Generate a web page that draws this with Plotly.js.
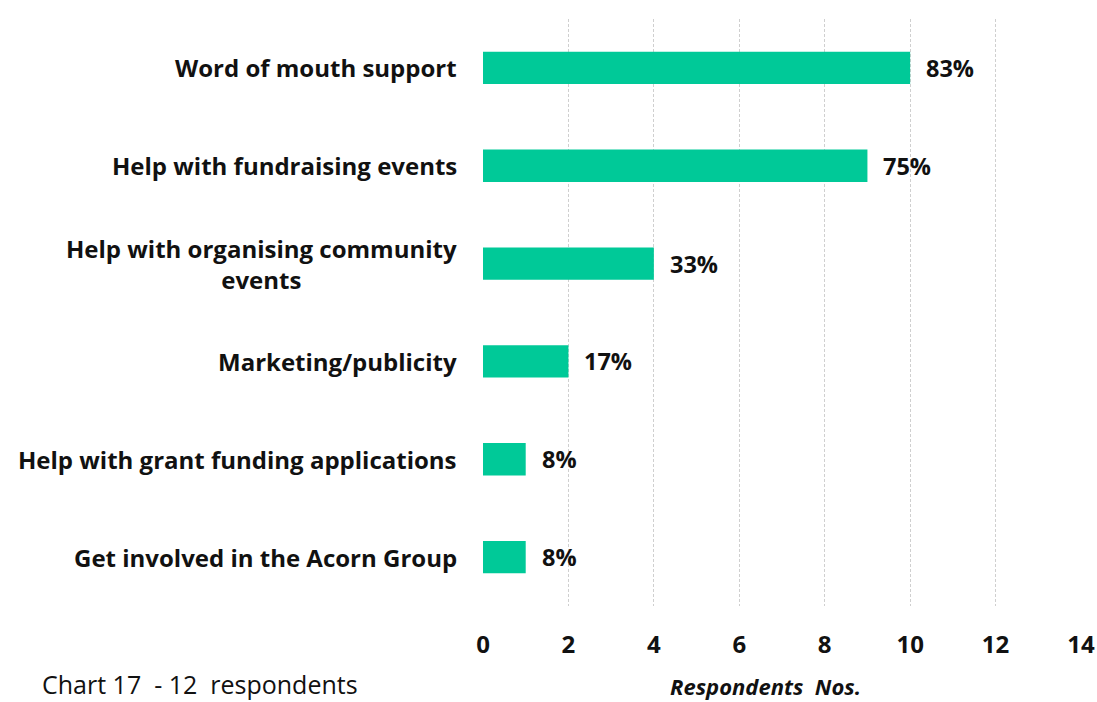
<!DOCTYPE html>
<html>
<head>
<meta charset="utf-8">
<script src="https://cdn.plot.ly/plotly-3.0.1.min.js"></script>
<style>html,body{margin:0;padding:0;background:#fff;}#chart{width:1097px;height:702px;}</style>
</head>
<body>
<div id="chart"></div>
<script>
const categories = ["Word of mouth support", "Help with fundraising events", "Help with organising community<br>events", "Marketing/publicity", "Help with grant funding applications", "Get involved in the Acorn Group"];
const respondents = [10, 9, 4, 2, 1, 1];
const percentLabels = ["83%", "75%", "33%", "17%", "8%", "8%"];
const xTicks = [0, 2, 4, 6, 8, 10, 12, 14];

const FONT = "'Open Sans', sans-serif";
const ink = "#111111";

const W = 1097, H = 702, mL = 483, mR = 16, mT = 19, mB = 96;
const pw = W - mL - mR, ph = H - mT - mB;
const px = v => (v - mL) / pw;          // pixel x -> paper
const py = v => (H - mB - v) / ph;      // pixel y -> paper

const trace = {
  type: "bar",
  orientation: "h",
  x: respondents,
  y: categories,
  marker: {color: "#00C998"},
  width: 0.33,
  hoverinfo: "none"
};

const annotations = [];
categories.forEach((c, i) => {
  annotations.push({
    x: 0, xref: "paper", y: c, yref: "y",
    text: c, showarrow: false, xanchor: "right", yanchor: "middle",
    align: "center", xshift: -24,
    font: {family: FONT, size: 24, color: ink, weight: "bold"}
  });
  annotations.push({
    x: respondents[i], xref: "x", y: c, yref: "y",
    text: percentLabels[i], showarrow: false, xanchor: "left", yanchor: "middle",
    xshift: 14,
    font: {family: FONT, size: 23.5, color: ink, weight: "bold"}
  });
});
annotations.push({
  x: px(765), xref: "paper", y: py(686), yref: "paper",
  text: "<i>Respondents  Nos.</i>", showarrow: false,
  xanchor: "center", yanchor: "middle",
  font: {family: FONT, size: 22, color: ink, weight: "bold"}
});
annotations.push({
  x: px(40), xref: "paper", y: py(684), yref: "paper",
  text: "Chart 17  - 12  respondents", showarrow: false,
  xanchor: "left", yanchor: "middle",
  font: {family: FONT, size: 25, color: ink}
});

const layout = {
  width: W, height: H,
  margin: {l: mL, r: mR, t: mT, b: mB, pad: 0},
  paper_bgcolor: "#fff", plot_bgcolor: "#fff",
  showlegend: false,
  xaxis: {
    range: [0, 14], tickvals: xTicks, ticktext: xTicks.map(String),
    showgrid: true, gridcolor: "#cfcfcf", griddash: "3px,2px", gridwidth: 1,
    zeroline: false, showline: false, ticks: "",
    ticklabelstandoff: 22,
    tickfont: {family: FONT, size: 24, color: ink, weight: "bold"},
    fixedrange: true
  },
  yaxis: {
    autorange: "reversed", showticklabels: false, showgrid: false,
    zeroline: false, showline: false, ticks: "", fixedrange: true
  },
  annotations: annotations
};

Plotly.newPlot("chart", [trace], layout, {displayModeBar: false, staticPlot: true});
</script>
</body>
</html>
